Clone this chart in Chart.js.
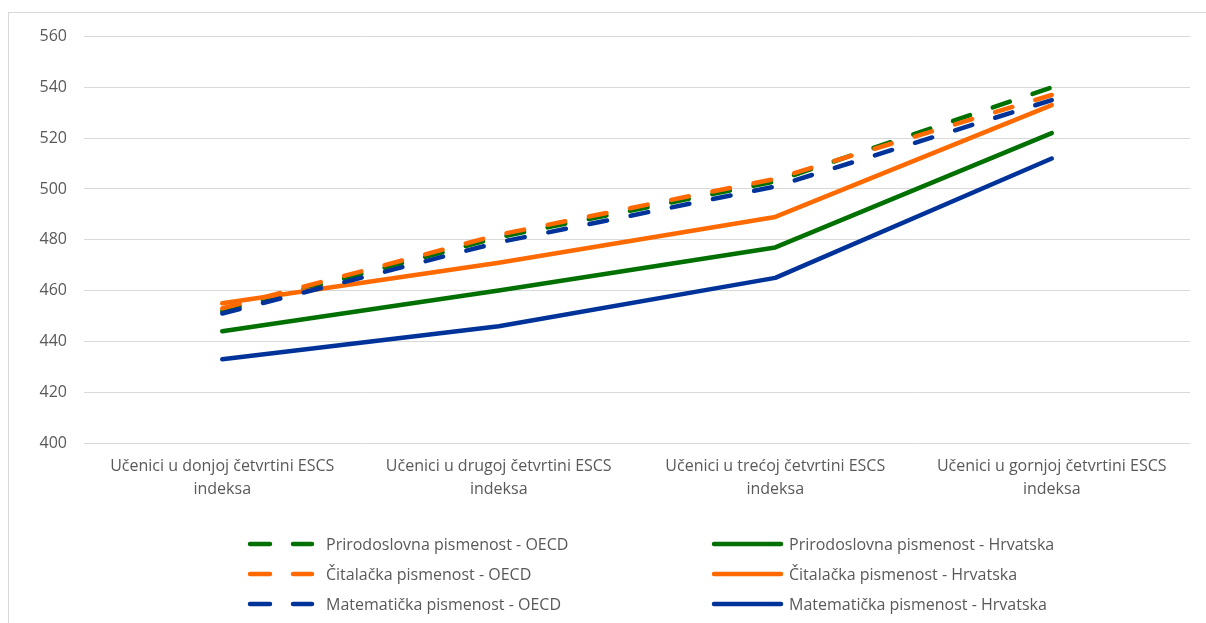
<!DOCTYPE html>
<html>
<head>
<meta charset="utf-8">
<script src="https://cdn.jsdelivr.net/npm/chart.js@4"></script>
<style>
    html, body { margin: 0; padding: 0; background: #fff; }
    body { width: 1206px; height: 623px; position: relative; overflow: hidden; font-family: "Open Sans", sans-serif; }
    #okvir { position: absolute; left: 8px; top: 12px; width: 1220px; height: 640px; border: 1px solid #d9d9d9; }
    #grafWrap { position: absolute; left: 9px; top: 10px; width: 1197px; height: 503px; }
    #legenda { position: absolute; left: 0; top: 0; width: 1206px; height: 623px; pointer-events: none; }
    .stavka { position: absolute; height: 20px; display: flex; align-items: center; color: #595959; font-size: 16px; white-space: nowrap; }
    .stavka svg { flex: none; }
</style>
</head>
<body>
<div id="okvir"></div>
<div id="grafWrap"><canvas id="grafikon"></canvas></div>
<div id="legenda"></div>

<script>
// kategorije (ESCS četvrtine)
const kategorije = [
    "Učenici u donjoj četvrtini ESCS indeksa",
    "Učenici u drugoj četvrtini ESCS indeksa",
    "Učenici u trećoj četvrtini ESCS indeksa",
    "Učenici u gornjoj četvrtini ESCS indeksa"
];

// rezultati
const prirodoslovnaOECD = [452, 481, 503, 540];
const prirodoslovnaHR   = [444, 460, 477, 522];
const citalackaOECD     = [453, 482, 504, 537];
const citalackaHR       = [455, 471, 489, 533];
const matematickaOECD   = [451, 479, 501, 535];
const matematickaHR     = [433, 446, 465, 512];

const yMin = 400, yMax = 560, yKorak = 20;

const zelena = "#007000";
const narancasta = "#ff6a00";
const plava = "#003399";
const crtkano = [18, 24];

function serija(naziv, podaci, boja, isprekidano, red) {
    return {
        label: naziv,
        data: podaci,
        borderColor: boja,
        backgroundColor: boja,
        borderWidth: 4.5,
        borderDash: isprekidano ? crtkano : [],
        borderCapStyle: "round",
        borderJoinStyle: "round",
        pointRadius: 0,
        pointHoverRadius: 0,
        tension: 0,
        fill: false,
        order: red,
        isprekidano: isprekidano
    };
}

const datasets = [
    serija("Prirodoslovna pismenost - OECD", prirodoslovnaOECD, zelena, true, 6),
    serija("Prirodoslovna pismenost - Hrvatska", prirodoslovnaHR, zelena, false, 5),
    serija("Čitalačka pismenost - OECD", citalackaOECD, narancasta, true, 4),
    serija("Čitalačka pismenost - Hrvatska", citalackaHR, narancasta, false, 3),
    serija("Matematička pismenost - OECD", matematickaOECD, plava, true, 2),
    serija("Matematička pismenost - Hrvatska", matematickaHR, plava, false, 1)
];

const font = { family: "'Open Sans', sans-serif", size: 16 };

const grafikon = new Chart(document.getElementById("grafikon"), {
    type: "line",
    data: { labels: kategorije, datasets: datasets },
    options: {
        responsive: true,
        maintainAspectRatio: false,
        animation: false,
        layout: { padding: { top: 13, right: 16, left: 0, bottom: 0 } },
        plugins: {
            legend: { display: false },
            tooltip: { enabled: false }
        },
        scales: {
            x: {
                offset: true,
                grid: { display: false, drawTicks: false },
                border: { display: false },
                ticks: {
                    color: "#595959",
                    font: { family: font.family, size: font.size, lineHeight: 1.44 },
                    padding: 12,
                    maxRotation: 0,
                    autoSkip: false,
                    callback: function (v) {
                        const t = this.getLabelForValue(v);
                        const i = t.lastIndexOf(" ");
                        return [t.slice(0, i), t.slice(i + 1)];
                    }
                },
                afterFit: s => { s.height = 70; }
            },
            y: {
                min: yMin,
                max: yMax,
                grid: { color: "#d9d9d9", lineWidth: 1, drawTicks: false },
                border: { display: false },
                ticks: {
                    stepSize: yKorak,
                    color: "#595959",
                    font: font,
                    padding: 17
                },
                afterFit: s => { s.width = 75; }
            }
        }
    }
});

// legenda u dva stupca
const legenda = document.getElementById("legenda");
const redovi = [544, 574, 604];
grafikon.data.datasets.forEach((ds, i) => {
    const red = Math.floor(i / 2);
    const el = document.createElement("div");
    el.className = "stavka";
    el.style.top = (redovi[red] - 10) + "px";
    let svg;
    if (ds.isprekidano) {
        el.style.left = "246px";
        svg = '<svg width="80" height="20"><line x1="4" y1="10" x2="66" y2="10" stroke="' + ds.borderColor +
              '" stroke-width="4.5" stroke-linecap="round" stroke-dasharray="20 23"/></svg>';
    } else {
        el.style.left = "710px";
        svg = '<svg width="79" height="20"><line x1="4" y1="10" x2="71" y2="10" stroke="' + ds.borderColor +
              '" stroke-width="4.5" stroke-linecap="round"/></svg>';
    }
    el.innerHTML = svg + "<span>" + ds.label + "</span>";
    legenda.appendChild(el);
});
</script>
</body>
</html>
